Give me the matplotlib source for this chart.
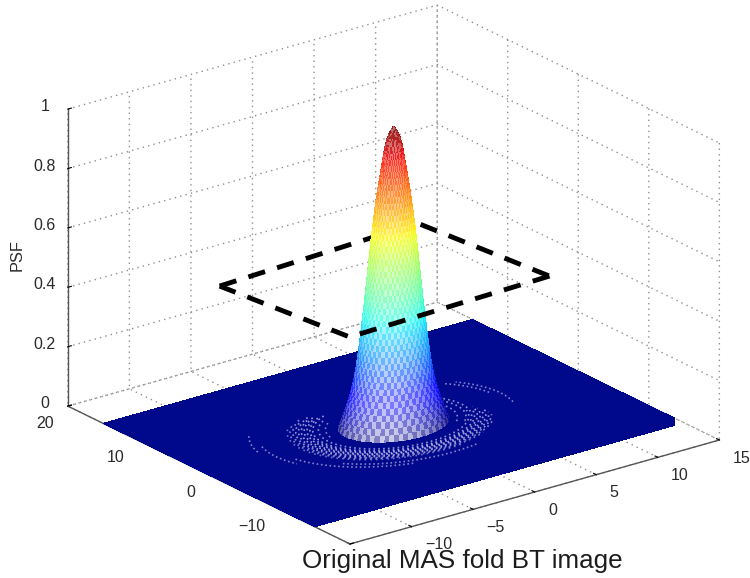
import numpy as np
import matplotlib
matplotlib.use("Agg")
import matplotlib.pyplot as plt
from matplotlib.transforms import ScaledTranslation
from mpl_toolkits.mplot3d import proj3d

plt.rcParams['font.family'] = ['Liberation Sans', 'DejaVu Sans']

# ---- data ----
x_ticks = [-15, -10, -5, 0, 5, 10, 15]
x_labels = ['', '\u221210', '\u22125', '0', '5', '10', '15']
y_ticks = [-20, -10, 0, 10, 20]
y_labels = ['', '\u221210', '0', '10', '20']
z_ticks = [0, 0.2, 0.4, 0.6, 0.8, 1]
z_labels = ['0', '0.2', '0.4', '0.6', '0.8', '1']
z_title = 'PSF'
caption = 'Original MAS fold BT image'

plate_x = [-15, 15]
plate_y = [-15, 15]

psf_height = [1.00, .98, .96, .94, .92, .90, .88, .86, .84, .82, .80, .78, .76, .74, .72, .70, .68,
              .66, .64, .62, .60, .58, .56, .54, .52, .50, .48, .46, .44, .42, .40, .38, .36, .34,
              .32, .30, .28, .26, .24, .22, .20, .18, .16, .14, .12, .10, .08, .06, .04, .02, .00]
psf_radius = [0.00, .28, .46, .58, .67, .74, .81, .88, .95, 1.02, 1.09, 1.16, 1.22, 1.28, 1.34, 1.39, 1.44,
              1.50, 1.55, 1.60, 1.64, 1.69, 1.74, 1.78, 1.83, 1.87, 1.92, 1.96, 2.01, 2.05, 2.10, 2.15, 2.20, 2.25,
              2.30, 2.35, 2.41, 2.46, 2.52, 2.58, 2.64, 2.72, 2.80, 2.90, 3.00, 3.12, 3.26, 3.40, 3.56, 3.72, 3.90]

# side-lobe rings: radius, start / end angle (deg), opacity, dot gap
ring_radius = [4.5, 4.8, 5.1, 5.3, 5.5, 5.7, 5.9, 6.1, 6.3, 6.5, 6.7, 6.9, 7.1, 7.3, 7.5,
               8.2, 8.7, 8.4, 9.0, 9.6, 10.2]
ring_start = [-40, 135, -40, 130, -40, 120, 125, 130, 125, 130, 125, 135, 130, 140, 145,
              5, -15, 215, 190, 165, 150]
ring_end = [25, 175, 25, 345, 30, 345, 350, 345, 340, 340, 335, 330, 320, 300, 280,
            35, 30, 285, 250, 195, 172]
ring_alpha = [.75, .7, .8, .8, .8, .85, .85, .85, .85, .85, .8, .8, .75, .7, .6,
              .7, .7, .7, .7, .7, .7]
ring_gap = [1.9, 1.9, 1.9, 1.9, 1.9, 1.9, 1.9, 1.9, 1.9, 1.9, 1.9, 1.9, 2.2, 2.2, 2.4,
            1.6, 1.6, 1.6, 1.6, 1.6, 1.6]

dash_x = [-8.61, 8.22, 9.44, -7.28]
dash_y = [9.63, 10.97, -5.62, -6.49]
dash_z = [.45, .45, .45, .45]

NAVY = '#00088c'
TEXT = '#2a2a2a'

fig = plt.figure(figsize=(7.5, 5.78), dpi=100)
ax = fig.add_axes([0, 0, 1, 1], projection='3d', proj_type='ortho', computed_zorder=False)
ax.view_init(elev=21.77, azim=-127.2)
ax.set_xlim(-15, 15, view_margin=0)
ax.set_ylim(-20, 20, view_margin=0)
ax.set_zlim(0, 1, view_margin=0)
ASPECT = (464, 467, 320)
ax.set_box_aspect(ASPECT, zoom=1.0)


def px(x, y, z):
    sx, sy, _ = proj3d.proj_transform(x, y, z, ax.get_proj())
    dx, dy = ax.transData.transform((sx, sy))
    return dx, 578 - dy


# fit the box to the reference frame: z axis spans 297 px, front corner at (350, 544)
zoom = 1.0
for _ in range(2):
    fig.canvas.draw()
    h = px(-15, -20, 0)[1] - px(-15, -20, 1)[1]
    zoom *= 297.0 / h
    ax.set_box_aspect(ASPECT, zoom=zoom)
fig.canvas.draw()
fx, fy = px(-15, -20, 0)
pos = ax.get_position()
ax.set_position([pos.x0 + (350 - fx) / 750, pos.y0 - (544 - fy) / 578, pos.width, pos.height])
fig.canvas.draw()

# axes styling
for axis in (ax.xaxis, ax.yaxis, ax.zaxis):
    axis.set_pane_color((1, 1, 1, 0))
    axis.pane.set_edgecolor((1, 1, 1, 0))
    axis._axinfo['grid'].update(color='#8f8f8f', linestyle=(0, (1, 3)), linewidth=1.0)
    axis._axinfo['tick'].update(inward_factor=0.0, outward_factor=0.12, linewidth={True: 0.8, False: 0.8},
                                color='#444444')
    axis.line.set_color('#555555')
    axis.line.set_linewidth(1.0)

ax.set_xticks(x_ticks, x_labels, fontsize=11.5, color=TEXT)
ax.set_yticks(y_ticks, y_labels, fontsize=11.5, color=TEXT)
ax.set_zticks(z_ticks, z_labels, fontsize=11.5, color=TEXT)
ax.tick_params(axis='x', pad=-4)
ax.tick_params(axis='y', pad=-3)
ax.tick_params(axis='z', pad=-2)
plt.setp(ax.get_xticklabels(), ha='left')
plt.setp(ax.get_yticklabels(), ha='right')
plt.setp(ax.get_zticklabels(), va='bottom')
# mplot3d resets the label transforms on each draw, so the pixel nudge goes in through get_transform
for labels, (ox, oy) in ((ax.get_xticklabels(), (8, -2.5)),
                         (ax.get_yticklabels(), (-5.5, -0.5)),
                         (ax.get_zticklabels(), (-5, -6))):
    nudged = ax.transData + ScaledTranslation(ox / 100, oy / 100, fig.dpi_scale_trans)
    for lab in labels:
        lab.get_transform = lambda tr=nudged: tr
ax.zaxis.set_rotate_label(False)
ax.set_zlabel(z_title, fontsize=11.8, color=TEXT, rotation=90, labelpad=-4)

# plate
X, Y = np.meshgrid(plate_x, plate_y)
ax.plot_surface(X, Y, np.zeros_like(X, dtype=float), color=NAVY, shade=False, linewidth=0,
                antialiased=False, zorder=1)

# rings
for r, a0, a1, al, gap in zip(ring_radius, ring_start, ring_end, ring_alpha, ring_gap):
    t = np.deg2rad(np.arange(a0, a1 + 1, 1.0))
    ax.plot(r * np.cos(t), r * np.sin(t), np.zeros_like(t), color='#b4b2e6', alpha=al, lw=1.2,
            ls=(0, (1, gap)), zorder=2)

# dashed frame, far edges behind the peak, near edges in front
dash_style = dict(color='black', lw=3.5, ls=(0, (3.6, 2.6)), dash_capstyle='butt')
ax.plot(dash_x[:3], dash_y[:3], dash_z[:3], zorder=3, **dash_style)

# peak
rad = np.array(psf_radius)
hgt = np.array(psf_height)
theta = np.deg2rad(np.linspace(0, 360, 145))
T, R = np.meshgrid(theta, rad)
PX, PY = R * np.cos(T), R * np.sin(T)
PZ = np.tile(hgt[:, None], (1, theta.size))
zmid = 0.5 * (hgt[:-1] + hgt[1:])
tmid = 0.5 * (theta[:-1] + theta[1:])
jet = plt.get_cmap('jet')
cols = jet(zmid)[:, None, :3] * np.ones((zmid.size, tmid.size, 3))
facing = np.clip(np.cos(tmid - np.deg2rad(-127.2)), 0, 1)[None, :]
low = (1 - zmid)[:, None]
i, j = np.indices((zmid.size, tmid.size))
checker = ((i + j // 2) % 2 == 0)
mix = np.where(checker, 0.42 + 0.38 * facing * low, 0.14 + 0.38 * facing * low)
mix = mix * (0.25 + 0.75 * facing ** 0.6)
rgb = cols * (1 - mix[..., None]) + mix[..., None]
rgba = np.dstack([rgb, np.ones(mix.shape)])
ax.plot_surface(PX, PY, PZ, facecolors=rgba, rstride=1, cstride=1, shade=False, linewidth=0,
                antialiased=False, zorder=4)

ax.plot([dash_x[2], dash_x[3], dash_x[0]], [dash_y[2], dash_y[3], dash_y[0]],
        [dash_z[2], dash_z[3], dash_z[0]], zorder=5, **dash_style)

fig.text(462 / 750, 1 - 561 / 578, caption, ha='center', va='center', fontsize=18.7, color='#1c1c1c',
         bbox=dict(facecolor='white', edgecolor='none', pad=0))

fig.savefig('out.png', dpi=100)
